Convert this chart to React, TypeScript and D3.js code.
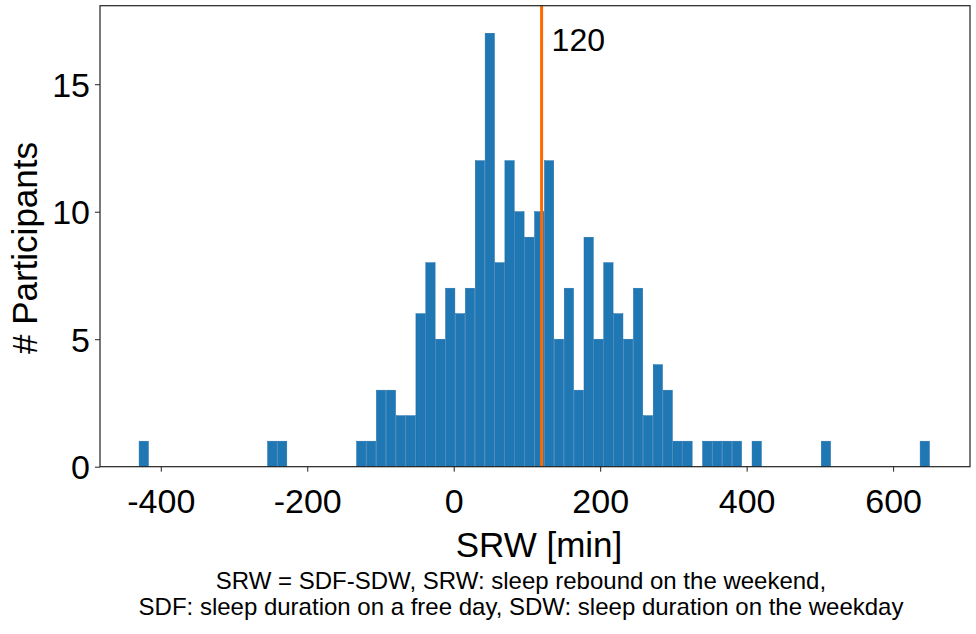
import React, { FC, useEffect, useRef } from 'react'
import * as d3 from 'd3'

// histogram of SRW (minutes), 80 equal bins between the min and max value
const srwMin = -430
const srwMax = 650
const counts = [
	1, 0, 0, 0, 0, 0, 0, 0, 0, 0,
	0, 0, 0, 1, 1, 0, 0, 0, 0, 0,
	0, 0, 1, 1, 3, 3, 2, 2, 6, 8,
	5, 7, 6, 7, 12, 17, 8, 12, 10, 9,
	10, 12, 5, 7, 3, 9, 5, 8, 6, 5,
	7, 2, 4, 3, 1, 1, 0, 1, 1, 1,
	1, 0, 1, 0, 0, 0, 0, 0, 0, 1,
	0, 0, 0, 0, 0, 0, 0, 0, 0, 1
]
const xTicks = [-400, -200, 0, 200, 400, 600]
const yTicks = [0, 5, 10, 15]
const threshold = 120
const footnote = [
	'SRW = SDF-SDW, SRW: sleep rebound on the weekend,',
	'SDF: sleep duration on a free day, SDW: sleep duration on the weekday'
]

const W = 976
const H = 634
const FONT = '"Liberation Sans", Arial, Helvetica, sans-serif'
const plot = { left: 100, right: 970, top: 5.7, bottom: 466.7 }

const App: FC = () => {
	const xAxis = useRef<SVGGElement>(null)
	const yAxis = useRef<SVGGElement>(null)

	const x = d3.scaleLinear().domain([-483, 705]).range([plot.left, plot.right])
	const y = d3.scaleLinear().domain([0, 18.08]).range([plot.bottom, plot.top])

	const step = (srwMax - srwMin) / counts.length
	const bins = counts.map((c, i) => ({
		x0: srwMin + i * step,
		x1: srwMin + (i + 1) * step,
		count: c
	}))

	useEffect(() => {
		// plain hyphen for negatives, like the original
		const fmt = (d: d3.NumberValue) => String(d)
		if (xAxis.current) {
			const g = d3.select(xAxis.current)
			g.call(
				d3.axisBottom(x).tickValues(xTicks).tickFormat(fmt)
					.tickSize(5).tickSizeOuter(0).tickPadding(17)
			)
			g.select('.domain').remove()
			g.selectAll('line').attr('stroke', '#222')
			g.selectAll('text')
				.attr('font-family', FONT)
				.attr('font-size', 34)
				.attr('fill', '#000')
		}
		if (yAxis.current) {
			const g = d3.select(yAxis.current)
			g.call(
				d3.axisLeft(y).tickValues(yTicks).tickFormat(fmt)
					.tickSize(5).tickSizeOuter(0).tickPadding(5)
			)
			g.select('.domain').remove()
			g.selectAll('line').attr('stroke', '#222')
			g.selectAll('text')
				.attr('font-family', FONT)
				.attr('font-size', 34)
				.attr('fill', '#000')
				.attr('dy', '0.36em')
		}
	}, [])

	return (
		<svg
			width={W}
			height={H}
			style={{ position: 'absolute', left: 0, top: 0, background: '#fff' }}
		>
			{/* bars */}
			<g>
				{bins
					.filter((b) => b.count > 0)
					.map((b, i) => (
						<rect
							key={i}
							x={x(b.x0) + 0.3}
							y={y(b.count)}
							width={x(b.x1) - x(b.x0) - 0.6}
							height={y(0) - y(b.count)}
							fill="#1f77b4"
							stroke="#1b6cab"
							strokeWidth={0.5}
						/>
					))}
			</g>
			<line
				x1={x(threshold)}
				x2={x(threshold)}
				y1={plot.top}
				y2={plot.bottom}
				stroke="#ff6a00"
				strokeWidth={3}
			/>
			<text
				x={x(threshold) + 10}
				y={y(16.3)}
				fontFamily={FONT}
				fontSize={32}
				fill="#000"
			>
				{threshold}
			</text>
			<rect
				x={plot.left}
				y={plot.top}
				width={plot.right - plot.left}
				height={plot.bottom - plot.top}
				fill="none"
				stroke="#222"
				strokeWidth={1.2}
			/>
			<g ref={xAxis} transform={`translate(0, ${plot.bottom})`}></g>
			<g ref={yAxis} transform={`translate(${plot.left}, 0)`}></g>
			<text
				x={539}
				y={557}
				textAnchor="middle"
				fontFamily={FONT}
				fontSize={35}
				fill="#000"
			>
				SRW [min]
			</text>
			<text
				transform="translate(37, 248) rotate(-90)"
				textAnchor="middle"
				fontFamily={FONT}
				fontSize={35}
				fill="#000"
			>
				# Participants
			</text>
			{footnote.map((line, i) => (
				<text
					key={i}
					x={521}
					y={589 + i * 26}
					textAnchor="middle"
					fontFamily={FONT}
					fontSize={24}
					fill="#000"
				>
					{line}
				</text>
			))}
		</svg>
	)
}

export default App
